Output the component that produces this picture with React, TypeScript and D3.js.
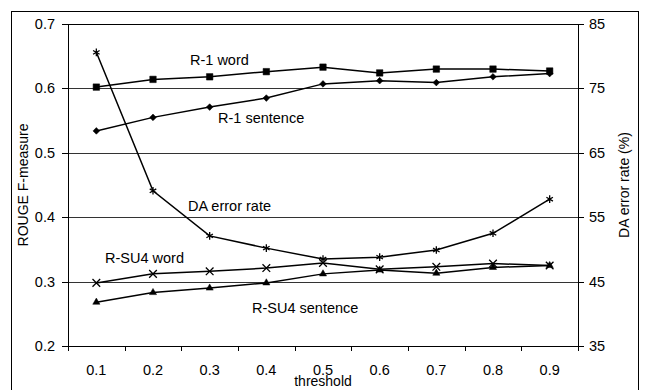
import React from 'react'
import * as d3 from 'd3'

// threshold categories on the x axis
const thresholds = ['0.1', '0.2', '0.3', '0.4', '0.5', '0.6', '0.7', '0.8', '0.9']

// ROUGE F-measure series (left axis)
const r1Word = [0.602, 0.614, 0.618, 0.626, 0.633, 0.624, 0.63, 0.63, 0.627]
const r1Sentence = [0.534, 0.555, 0.571, 0.585, 0.607, 0.612, 0.609, 0.618, 0.623]
const rsu4Word = [0.298, 0.312, 0.316, 0.321, 0.329, 0.319, 0.323, 0.328, 0.325]
const rsu4Sentence = [0.268, 0.283, 0.29, 0.298, 0.312, 0.318, 0.313, 0.322, 0.325]

// DA error rate (right axis, %)
const daErrorRate = [80.6, 59.1, 52.1, 50.2, 48.5, 48.8, 49.9, 52.5, 57.8]

const leftTicks = [0.2, 0.3, 0.4, 0.5, 0.6, 0.7]
const rightTicks = [35, 45, 55, 65, 75, 85]

const W = 647
const H = 390
const margin = { left: 68, right: 69, top: 24, bottom: 44 }
const font = 'Arial, "Liberation Sans", sans-serif'
const fs = 14.5

const App: React.FC = () => {
  const x = d3.scaleBand().domain(thresholds).range([margin.left, W - margin.right])
  const yL = d3.scaleLinear().domain([0.2, 0.7]).range([H - margin.bottom, margin.top])
  const yR = d3.scaleLinear().domain([35, 85]).range([H - margin.bottom, margin.top])
  const cx = (i: number) => (x(thresholds[i]) || 0) + x.bandwidth() / 2

  const left = margin.left
  const right = W - margin.right
  const top = margin.top
  const bottom = H - margin.bottom

  const lineL = d3.line<number>().x((_, i) => cx(i)).y(d => yL(d))
  const lineR = d3.line<number>().x((_, i) => cx(i)).y(d => yR(d))

  const sym = (type: d3.SymbolType, size: number) => d3.symbol().type(type).size(size)() || ''

  // each series: values, scale, marker, rotation, filled or stroked
  const series = [
    { values: r1Word, line: lineL, y: yL, marker: sym(d3.symbolSquare, 42), rot: 0, fill: true },
    { values: r1Sentence, line: lineL, y: yL, marker: sym(d3.symbolSquare, 22), rot: 45, fill: true },
    { values: rsu4Word, line: lineL, y: yL, marker: sym(d3.symbolTimes, 40), rot: 0, fill: false },
    { values: rsu4Sentence, line: lineL, y: yL, marker: sym(d3.symbolTriangle, 22), rot: 0, fill: true },
    { values: daErrorRate, line: lineR, y: yR, marker: sym(d3.symbolAsterisk, 40), rot: 0, fill: false },
  ]

  // boundaries of the bands for x tick marks
  const xTicks = thresholds.map(t => x(t) || 0).concat([right])

  return (
    <svg width={W} height={H} style={{ position: 'absolute', left: 0, top: 0, background: '#fff' }} fontFamily={font}>
      <rect x={0} y={0} width={W} height={H} fill="#fff" />
      {/* outer frame */}
      <rect x={11.5} y={11.5} width={627} height={390} fill="none" stroke="#000" strokeWidth={1} />

      {/* gridlines */}
      {leftTicks.slice(1, -1).map(t => (
        <line key={t} x1={left} x2={right} y1={Math.round(yL(t)) + 0.5} y2={Math.round(yL(t)) + 0.5} stroke="#333" strokeWidth={1} />
      ))}
      {/* plot frame */}
      <line x1={left} x2={right} y1={top + 0.5} y2={top + 0.5} stroke="#000" />
      <line x1={left + 0.5} x2={left + 0.5} y1={top} y2={bottom} stroke="#000" />
      <line x1={right + 0.5} x2={right + 0.5} y1={top} y2={bottom} stroke="#000" />
      <line x1={left} x2={right + 1} y1={bottom + 0.5} y2={bottom + 0.5} stroke="#000" />

      {/* left axis */}
      {leftTicks.map(t => (
        <g key={t}>
          <line x1={left - 6} x2={left} y1={Math.round(yL(t)) + 0.5} y2={Math.round(yL(t)) + 0.5} stroke="#000" />
          <text x={55} y={yL(t) + 5} textAnchor="end" fontSize={fs} fill="#000">{t.toFixed(1)}</text>
        </g>
      ))}
      {/* right axis */}
      {rightTicks.map(t => (
        <g key={t}>
          <line x1={right} x2={right + 6} y1={Math.round(yR(t)) + 0.5} y2={Math.round(yR(t)) + 0.5} stroke="#000" />
          <text x={589} y={yR(t) + 5} textAnchor="start" fontSize={fs} fill="#000">{t}</text>
        </g>
      ))}
      {/* x axis */}
      {xTicks.map((t, i) => (
        <line key={i} x1={Math.round(t) + 0.5} x2={Math.round(t) + 0.5} y1={bottom} y2={bottom + 5} stroke="#000" />
      ))}
      {thresholds.map((t, i) => (
        <text key={t} x={cx(i)} y={bottom + 29} textAnchor="middle" fontSize={fs} fill="#000">{t}</text>
      ))}

      {/* axis titles */}
      <text x={(left + right) / 2} y={386} textAnchor="middle" fontSize={14} fill="#000">threshold</text>
      <text transform={`translate(28,${(top + bottom) / 2}) rotate(-90)`} textAnchor="middle" fontSize={14} fill="#000">ROUGE F-measure</text>
      <text transform={`translate(629,${(top + bottom) / 2}) rotate(-90)`} textAnchor="middle" fontSize={14} fill="#000">DA error rate (%)</text>

      {/* series */}
      {series.map((s, k) => (
        <g key={k}>
          <path d={s.line(s.values) || ''} fill="none" stroke="#000" strokeWidth={1.5} />
          {s.values.map((v, i) => (
            <path key={i} d={s.marker} transform={`translate(${cx(i)},${s.y(v)}) rotate(${s.rot})`}
              fill={s.fill ? '#000' : 'none'} stroke="#000" strokeWidth={s.fill ? 0.5 : 1.3} />
          ))}
        </g>
      ))}

      {/* series labels */}
      <text x={190} y={65} fontSize={fs} fill="#000">R-1 word</text>
      <text x={218} y={123} fontSize={fs} fill="#000">R-1 sentence</text>
      <text x={188} y={211} fontSize={fs} fill="#000">DA error rate</text>
      <text x={105} y={263} fontSize={fs} fill="#000">R-SU4 word</text>
      <text x={252} y={313} fontSize={fs} fill="#000">R-SU4 sentence</text>
    </svg>
  )
}

export default App
